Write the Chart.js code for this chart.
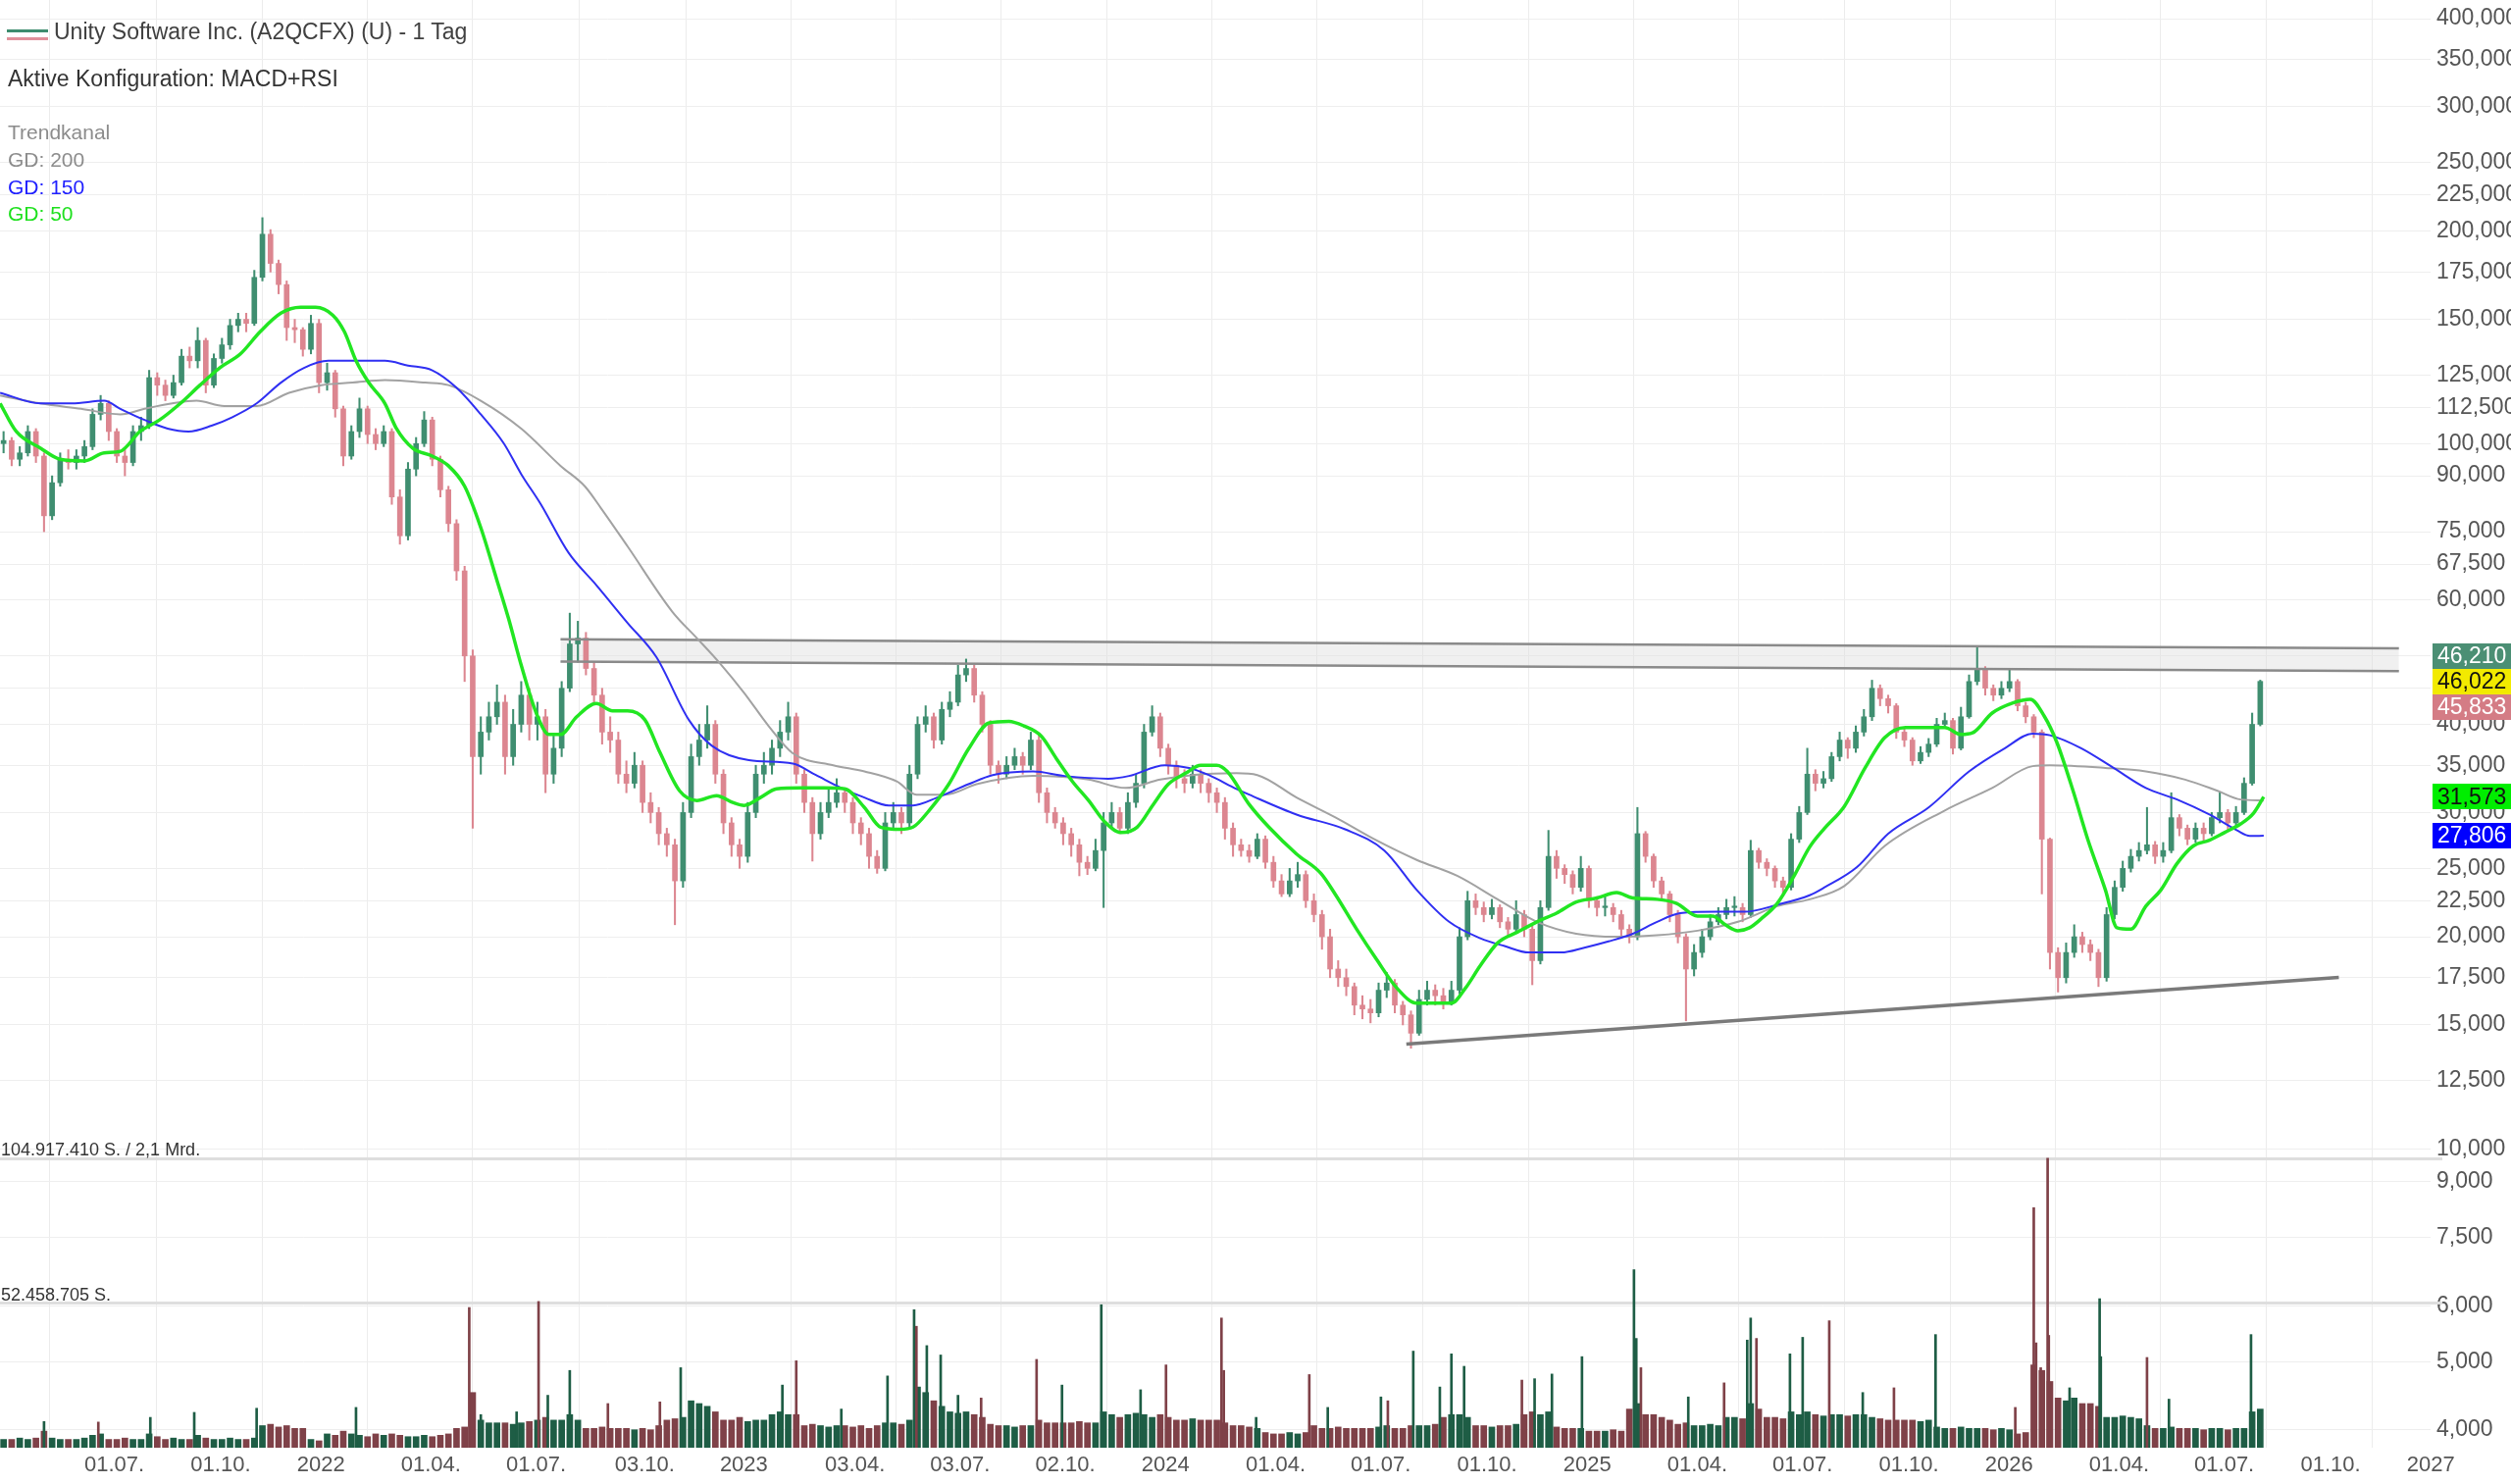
<!DOCTYPE html>
<html lang="de">
<head>
<meta charset="utf-8">
<title>Unity Software Inc. (A2QCFX) (U) - 1 Tag</title>
<script src="https://cdn.jsdelivr.net/npm/chart.js@4.4.1/dist/chart.umd.min.js"></script>
<style>
  html, body { margin: 0; padding: 0; background: #fff; }
  #wrap { position: relative; width: 2560px; height: 1513px; overflow: hidden;
          font-family: 'Liberation Sans', Arial, Helvetica, sans-serif; }
  #wrap canvas { position: absolute; left: 0; top: 0; }
  .t { position: absolute; white-space: nowrap; line-height: 1; }
  #title  { left: 55px; top: 21px;  font-size: 23px; color: #404040; }
  #config { left: 8px;  top: 69px;  font-size: 23px; color: #333; }
  #trend  { left: 8px;  top: 124px; font-size: 21px; color: #8c8c8c; }
  #gd200  { left: 8px;  top: 152px; font-size: 21px; color: #8c8c8c; }
  #gd150  { left: 8px;  top: 180px; font-size: 21px; color: #2020ff; }
  #gd50   { left: 8px;  top: 207px; font-size: 21px; color: #1ee01e; }
  #volmax { left: 1px;  top: 1163px; font-size: 18px; color: #333; }
  #volhalf{ left: 1px;  top: 1311px; font-size: 18px; color: #333; }
  .ico { position: absolute; left: 7px; width: 42px; height: 3px; }
</style>
</head>
<body>
<div id="wrap">
  <canvas id="chart" width="2560" height="1513"></canvas>
  <div class="ico" style="top:30px;background:#3d8c6e"></div>
  <div class="ico" style="top:38px;background:#e0909a"></div>
  <div class="t" id="title">Unity Software Inc. (A2QCFX) (U) - 1 Tag</div>
  <div class="t" id="config">Aktive Konfiguration: MACD+RSI</div>
  <div class="t" id="trend">Trendkanal</div>
  <div class="t" id="gd200">GD: 200</div>
  <div class="t" id="gd150">GD: 150</div>
  <div class="t" id="gd50">GD: 50</div>
  <div class="t" id="volmax">104.917.410 S. / 2,1 Mrd.</div>
  <div class="t" id="volhalf">52.458.705 S.</div>
</div>
<script>
'use strict';

/*
 * Unity Software Inc. - Tageschart mit GD 50/150/200, Trendkanal und Volumen.
 * Kerzen wochenweise, Tage gezaehlt ab 01.01.2021.
 * Kurse in Tausend Achseneinheiten (46.022 -> Achse "46,022").
 */

const FONT = "'Liberation Sans', Arial, Helvetica, sans-serif";
const PRICE_UNIT = 1000;

// x-Achse
const TICK_DAYS = [181, 273, 365, 455, 546, 640, 731, 822, 913, 1004, 1096, 1186,
  1277, 1369, 1461, 1551, 1642, 1734, 1826, 1916, 2007, 2099, 2191];
const TICK_LABELS = ['01.07.', '01.10.', '2022', '01.04.', '01.07.', '03.10.', '2023',
  '03.04.', '03.07.', '02.10.', '2024', '01.04.', '01.07.', '01.10.', '2025', '01.04.',
  '01.07.', '01.10.', '2026', '01.04.', '01.07.', '01.10.', '2027'];
const X_MIN_DAY = 91.9;
const X_MAX_DAY = 2195.4;

// y-Achse (logarithmisch)
const PRICE_TICKS = [400000, 350000, 300000, 250000, 225000, 200000, 175000, 150000,
  125000, 112500, 100000, 90000, 75000, 67500, 60000, 50000, 45000, 40000, 35000,
  30000, 25000, 22500, 20000, 17500, 15000, 12500, 10000, 9000, 7500, 6000, 5000, 4000];
const Y_MIN = 3775;
const Y_MAX = 425200;

// Wochenkerzen
const WEEK0_DAY = 95;
const FIRST_OPEN = 100;
const closes = [
  101, 95, 97, 104, 96, 79, 88, 95, 94, 96,
  99, 110, 114, 104, 96, 94, 104, 106, 124, 121,
  117, 122, 133, 131, 140, 121, 132, 138, 147, 150,
  148, 172, 198, 180, 168, 146, 145, 136, 148, 122,
  126, 112, 96, 104, 112, 103, 100, 104, 84, 74,
  92, 100, 108, 95, 86, 77, 66, 50, 36, 39,
  41, 43, 36, 40, 44, 40, 41, 34, 37, 45,
  52, 53, 48, 44, 39, 38, 34, 33, 35, 31,
  30, 28, 27, 24, 30, 36, 38, 40, 34, 29,
  27, 26, 30, 34, 35, 37, 39, 41, 34, 31,
  28, 30, 31, 32, 31, 29, 28, 26, 25, 29,
  30, 29, 34, 40, 41, 38, 42, 43, 47, 48,
  44, 40, 35, 34, 35, 36, 35, 38, 32, 30,
  29, 28, 27, 25.5, 25, 26.5, 29, 30, 28.5, 31,
  33, 39, 41, 37, 35, 33.5, 33, 34, 33, 32,
  31, 28.5, 27, 26.5, 26, 27.5, 25.5, 24, 23, 24,
  24.5, 22.5, 21.5, 20, 18, 17.5, 17, 16, 15.8, 15.6,
  16.8, 17.2, 16, 15.5, 14.6, 16.3, 16.8, 16.5, 16.2, 16.8,
  20, 22.5, 22, 21.5, 22, 21, 20.5, 21.5, 20.5, 18.5,
  22, 26, 25, 24.5, 23.5, 25, 22.5, 22, 22, 21.5,
  20.5, 20, 28, 26, 24, 23, 21.5, 20, 18, 19,
  20, 21, 21.5, 22, 22, 21.5, 26.5, 25.5, 25, 24,
  23.5, 27.5, 30, 34, 33, 33.5, 36, 38, 37, 39,
  41, 45, 43.5, 42.5, 39, 38, 35.5, 36.5, 37.5, 40,
  40.5, 37, 41, 46, 48, 45, 44, 45, 46, 42.5,
  41, 39, 27.5, 19, 17.5, 19, 20, 19.5, 19, 17.5,
  21.5, 23.5, 25, 26, 26.5, 27, 26, 26.5, 29.5, 28.5,
  27.5, 28.5, 28, 29.5, 30, 29, 30, 33, 40, 46.022
];
const highs = [
  104, 102, 99, 106, 105, 97, 90, 97, 98, 98,
  101, 112, 117, 115, 105, 98, 106, 109, 127, 126,
  123, 125, 136, 137, 146, 141, 134, 141, 150, 153,
  153, 176, 209, 201, 182, 170, 150, 146, 152, 150,
  130, 127, 113, 106, 116, 113, 105, 106, 105, 86,
  94, 102, 111, 109, 96, 87, 78, 67, 51, 41,
  43, 45.5, 44, 42, 46, 45, 43, 42, 38.5, 46,
  57.5, 56, 54, 49, 45, 41, 39, 35.5, 36.5, 35.5,
  32, 30.5, 28.5, 27.5, 31, 37.5, 40, 42.5, 40.5, 34.5,
  29.5, 27.5, 31, 35, 36.5, 38, 40.5, 43, 41.5, 34.5,
  31.5, 31, 32.5, 33.5, 32.5, 31.5, 29.5, 28.5, 26.5, 30,
  31, 30.5, 35, 41, 42.5, 41.5, 43, 44.5, 48.5, 49.5,
  48.5, 44.5, 40.5, 35.5, 36, 37, 36.5, 39, 38.5, 32.5,
  30.5, 29.5, 28.5, 27.5, 26, 27.5, 30, 31, 30.5, 32,
  34, 40, 42.5, 41.5, 37.5, 35.5, 34.5, 35, 34.5, 33.5,
  32.5, 31.5, 29, 27.5, 27, 28, 27.8, 26, 24.5, 25,
  25.5, 24.8, 23, 21.8, 20.5, 18.5, 18, 17.2, 16.5, 16.3,
  17.2, 17.8, 17.4, 16.2, 15.7, 16.8, 17.3, 17.1, 16.9, 17.3,
  20.6, 23.2, 23, 22.4, 22.6, 22.2, 21.3, 22.5, 21.8, 20.7,
  22.5, 28.3, 26.5, 25.3, 24.8, 26, 25.2, 22.8, 22.8, 22.3,
  21.8, 20.8, 30.5, 28.2, 26.2, 24.3, 23.2, 21.8, 20.2, 19.5,
  20.5, 21.5, 22, 22.6, 22.8, 22.3, 27.4, 26.7, 25.8, 25.2,
  24.3, 28, 30.6, 37, 34.5, 34.3, 36.5, 39, 38.3, 39.8,
  42, 46.2, 45.5, 44, 42.8, 39.5, 38.3, 37.2, 38.2, 40.8,
  41.5, 40.8, 42.3, 47, 51.5, 48.3, 45.5, 46, 48, 46.3,
  43, 41.3, 39.3, 27.6, 19.3, 19.6, 20.8, 20.3, 19.8, 19.2,
  22, 24, 25.6, 26.6, 27.2, 30.5, 27.3, 27.2, 32, 29.8,
  28.8, 29, 29, 30, 32, 30.3, 30.6, 33.6, 41.5, 46.21
];
const lows = [
  97, 93, 93, 96, 94, 75, 78, 87, 92, 92,
  94, 98, 108, 101, 94, 90, 93, 101, 105, 117,
  115, 116, 121, 128, 128, 118, 120, 130, 136, 144,
  144, 147, 170, 175, 163, 140, 139, 133, 134, 118,
  119, 109, 93, 95, 102, 100, 98, 99, 82, 72,
  73, 90, 99, 93, 84, 75, 64, 46, 28.5, 34,
  38, 40, 34, 35, 39, 38, 38, 32, 33, 36,
  44.5, 49, 47, 43, 37.5, 36.5, 33, 32, 32.5, 30,
  29, 27, 26, 20.8, 23.5, 29.5, 35, 37, 33, 28,
  26, 25, 25.5, 29.5, 33, 34, 36, 38, 33, 30,
  25.6, 27.5, 29.5, 30.5, 30, 28, 27, 25, 24.6, 24.8,
  28.5, 28, 28.5, 33.5, 39, 37, 37.5, 41, 42.5, 46,
  43, 39, 34, 33, 33.5, 34.5, 34, 34.5, 31, 29,
  28.5, 27, 26, 24.4, 24.5, 24.8, 22, 28.5, 28, 28,
  30.5, 32.5, 38.5, 36, 34, 32.5, 32, 32.5, 32, 31,
  30, 27.5, 26, 26, 25.5, 25.8, 25, 23.5, 22.8, 22.8,
  23.5, 22, 21, 19.2, 17.5, 17, 16.5, 15.5, 15.3, 15.1,
  15.4, 16.4, 15.6, 15, 13.9, 14.5, 16, 16, 15.8, 16,
  16.6, 19.8, 21.5, 21, 21.2, 20.6, 20, 20.3, 20, 17.1,
  18.3, 21.8, 24.2, 23.8, 23, 23.2, 22, 21.4, 21.4, 21,
  20, 19.6, 19.8, 25.5, 23.5, 22.5, 21, 19.6, 15.2, 17.6,
  18.7, 19.8, 20.8, 21.2, 21.4, 21, 21.3, 25, 24.4, 23.5,
  23, 23.3, 27.2, 29.8, 32.2, 32.5, 33.2, 35.5, 35.8, 36.5,
  38.5, 40.5, 42.5, 41.5, 38.2, 37.2, 35, 35.2, 36, 37.2,
  39.5, 36.3, 36.8, 40.8, 45.5, 44, 43.2, 43.5, 44.5, 41.8,
  40.2, 38.3, 23, 18, 16.7, 17.2, 18.7, 19, 18.5, 17,
  17.3, 21.2, 23.2, 24.7, 25.6, 26.2, 25.4, 25.5, 26.3, 27.8,
  27, 27.2, 27.3, 27.8, 29, 28.3, 28.6, 29.8, 32.8, 39.8
];

// Volumen in Mio. Stueck (typischer Tageswert je Woche)
const volumes = [
  3, 3, 3.5, 3, 3.5, 6, 3.5, 3, 3, 3,
  3.5, 4.5, 5, 3, 3, 3.5, 3, 3, 5, 4,
  3, 3.5, 3, 3, 4.5, 3.5, 3, 3, 3.5, 3,
  3, 3.5, 8, 8.5, 7.5, 8, 7, 7, 3, 2.5,
  5, 4.5, 6, 5, 4.5, 4, 5, 4.5, 5, 4.5,
  4, 4, 4.5, 4, 4.5, 5, 7, 7.5, 20, 10,
  9, 9, 9, 8.5, 9, 9.5, 10, 11, 10, 10,
  12, 10, 7, 7, 7.5, 7, 7, 7, 6.5, 7,
  6.5, 8, 10, 10.5, 11, 17, 16, 15, 13, 10,
  10, 11, 9.5, 10, 10, 12, 13, 12, 12, 8,
  8.5, 8, 7.5, 8, 8, 7.5, 8, 7, 8, 9,
  9, 8.5, 10, 22, 20, 17, 15, 13, 12.5, 13,
  12, 11, 8.5, 8, 8, 7.5, 8, 8, 10, 9,
  9, 9, 9, 9.5, 9, 9, 13, 12, 11, 12,
  12.5, 12, 11, 12, 11, 10, 10, 10.5, 10, 10,
  10, 9, 8, 8, 7.5, 7, 5.5, 5, 5, 5.5,
  5, 5.5, 8, 7, 7, 7.5, 7, 7, 7, 7,
  7.5, 8, 7, 7, 8, 8, 8, 8.5, 11, 12,
  12, 11, 8, 8, 7.5, 8, 8, 8.5, 12, 13,
  12, 13, 7.5, 7, 7, 7, 6, 6, 6, 6.5,
  6, 14, 16, 12, 12, 11, 10, 8.5, 9, 8,
  8, 8.5, 8, 11, 11, 10.5, 16, 14, 11, 11,
  10.5, 13, 12, 13, 12, 11.5, 12, 12, 11.5, 12,
  12, 11, 10.5, 10, 10, 10, 10, 9.5, 10, 7.5,
  7, 7, 7.5, 7, 7, 7, 6.5, 7, 6.5, 5,
  5.5, 30, 28, 24, 18, 17, 18, 16, 16, 15,
  11, 11, 11.5, 11, 10.5, 8, 7, 7, 7.5, 7,
  7, 7, 6.5, 7, 7, 6.5, 7, 7, 13, 14
];

// einzelne Volumenspitzen (Tag, Mio. Stueck, 1 = steigender Tag)
const spikeDays = [130, 177, 222, 260, 314, 400, 498, 508, 539, 558, 566, 585, 618, 663,
  681, 769, 781, 820, 860, 883, 885, 894, 906, 921, 941, 989, 1011, 1045, 1079, 1101,
  1149, 1151, 1179, 1225, 1241, 1287, 1293, 1315, 1338, 1348, 1359, 1409, 1420, 1435,
  1461, 1506, 1508, 1512, 1553, 1584, 1604, 1607, 1612, 1641, 1652, 1675, 1704, 1731,
  1767, 1836, 1852, 1854, 1858, 1864, 1865, 1883, 1909, 1910, 1950, 1969, 2040];
const spikeVols = [9.5, 9.3, 11, 12.8, 14.3, 14.6, 50.8, 12, 13, 53, 19, 28, 16, 16.6,
  29, 22.7, 31.5, 14, 26, 50, 44, 37, 33.6, 19, 18, 32, 22.7, 51.8, 21, 30,
  47, 28, 11, 26.5, 14.6, 18.4, 17, 35, 22, 34, 29.5, 24.5, 25, 26.7,
  33, 64.5, 39.6, 29, 18.4, 23.5, 39, 47, 39.6, 34, 40, 46, 20, 21.7,
  41, 14.6, 87, 38, 29, 104.9, 40.7, 21.7, 54, 33, 32.7, 17.6, 41];
const spikeUp = [1, 0, 1, 1, 1, 1, 0, 1, 1, 0, 1, 1, 0, 0,
  1, 1, 0, 1, 1, 1, 0, 1, 1, 1, 0, 0, 1, 1, 1, 0,
  0, 0, 1, 0, 1, 1, 0, 1, 1, 1, 1, 0, 1, 1,
  1, 1, 1, 0, 1, 0, 1, 1, 0, 1, 1, 0, 1, 0,
  1, 0, 0, 0, 0, 0, 0, 1, 1, 1, 0, 1, 1];
const VOL_MAX = 104.91741;
const VOL_PANEL_SHARE = 0.2;

// gleitende Durchschnitte
const gd50Days = [92, 106, 127, 144, 165, 182, 196, 213, 230, 248, 265, 282, 300, 317, 335,
  352, 365, 380, 390, 400, 411, 425, 435, 449, 466, 480, 494, 508, 522, 532, 543, 556, 567,
  577, 591, 608, 622, 635, 650, 663, 680, 695, 712, 726, 736, 750, 764, 785, 805, 823, 840,
  854, 871, 882, 896, 913, 930, 948, 965, 978, 993, 1006, 1020, 1034, 1048, 1062, 1076,
  1090, 1103, 1118, 1131, 1145, 1154, 1173, 1190, 1214, 1235, 1248, 1266, 1283, 1301, 1318,
  1335, 1348, 1360, 1373, 1388, 1405, 1422, 1439, 1456, 1474, 1491, 1505, 1526, 1543, 1561,
  1574, 1585, 1596, 1606, 1616, 1630, 1644, 1658, 1671, 1688, 1706, 1723, 1741, 1758, 1775,
  1789, 1799, 1816, 1834, 1849, 1861, 1872, 1886, 1899, 1914, 1924, 1936, 1949, 1962, 1976,
  1990, 2004, 2017, 2031, 2042, 2051];
const gd50Vals = [114, 104, 98.5, 95, 94.5, 97, 97.5, 104, 108, 114, 121, 128, 134, 144, 153,
  156, 156, 152, 144, 131, 122, 114, 105, 98.5, 96, 93, 87, 76, 64, 56.5, 48.5, 41.5, 38.7,
  38.7, 41, 42.8, 41.8, 41.8, 40.6, 36.5, 32.2, 31.2, 31.7, 31, 30.7, 31.5, 32.4, 32.5, 32.5,
  32.4, 30.5, 28.6, 28.4, 28.6, 30.2, 32.9, 36.9, 40.2, 40.4, 39.8, 38.5, 35.8, 33.2, 31.2,
  29.1, 28.1, 28.6, 30.8, 32.9, 34.1, 35, 35, 34.3, 30.8, 28.6, 26.2, 24.6, 22.9, 20.5, 18.6,
  16.9, 16.1, 16.1, 16.1, 16.9, 18.2, 19.6, 20.3, 21, 21.6, 22.4, 22.7, 23.1, 22.7, 22.6,
  22.3, 21.4, 21.4, 20.8, 20.4, 20.6, 21.2, 22.3, 24.3, 26.8, 28.5, 30.6, 34.7, 38.3, 39.6,
  39.6, 39.6, 38.7, 38.9, 41.5, 42.9, 43.4, 41.1, 37.7, 32.2, 27.4, 23.3, 20.6, 20.5, 22.1,
  23.3, 25.4, 26.9, 27.4, 28.1, 28.9, 29.9, 31.573];
const gd150Days = [92, 127, 154, 182, 196, 217, 237, 255, 275, 293, 314, 335, 355, 376, 397,
  425, 445, 466, 487, 508, 528, 543, 560, 584, 608, 635, 660, 688, 708, 740, 778, 798, 820,
  840, 861, 882, 903, 930, 951, 986, 1013, 1051, 1069, 1100, 1121, 1138, 1162, 1173, 1214,
  1256, 1290, 1318, 1346, 1373, 1394, 1415, 1443, 1463, 1484, 1505, 1526, 1546, 1578, 1602,
  1630, 1658, 1671, 1699, 1726, 1761, 1796, 1827, 1851, 1866, 1893, 1921, 1949, 1976, 2004,
  2028, 2039, 2051];
const gd150Vals = [118, 114, 114, 115, 112, 108, 105, 104, 106, 109, 114, 122, 128, 131, 131,
  131, 129, 127, 120, 110, 100, 90.5, 82, 70, 63, 55.7, 49.8, 40.6, 37.3, 35.6, 35.2, 33.9,
  32.5, 31.5, 30.7, 30.7, 31.5, 32.9, 33.9, 34.3, 33.8, 33.5, 33.8, 35, 34.7, 33.9, 32.4,
  31.8, 29.8, 28.4, 26.5, 23.3, 21, 19.9, 19.4, 19, 19, 19.3, 19.7, 20.2, 21, 21.6, 21.7,
  21.7, 22.2, 22.9, 23.5, 25.1, 28, 30.5, 34.3, 37, 38.8, 38.6, 37, 34.7, 32.5, 31.3, 29.8,
  28.3, 27.8, 27.806];
const gd200Days = [92, 127, 162, 196, 217, 241, 262, 286, 314, 342, 370, 397, 425, 460, 480,
  508, 543, 577, 598, 612, 635, 674, 695, 715, 736, 757, 778, 813, 840, 868, 885, 910, 937,
  965, 986, 1034, 1066, 1096, 1124, 1162, 1180, 1214, 1248, 1283, 1318, 1353, 1388, 1422,
  1456, 1491, 1526, 1561, 1596, 1630, 1658, 1688, 1723, 1775, 1816, 1851, 1866, 1914, 1949,
  1983, 2011, 2031, 2051];
const gd200Vals = [117, 114, 112, 110, 112, 114, 115, 113, 113, 118, 121, 122, 123, 122, 121,
  115, 105, 93, 87, 81, 71.5, 57.7, 53, 48.8, 44.3, 39.8, 36.4, 35, 34.3, 33.2, 31.8, 31.8,
  32.9, 33.6, 33.8, 33.4, 32.5, 33.4, 33.9, 34.1, 33.9, 31.5, 29.5, 27.4, 25.7, 24.4, 22.6,
  21, 20.2, 20, 20.1, 20.4, 21, 22.1, 22.6, 23.6, 26.9, 30.2, 32.5, 34.9, 35, 34.7, 34.3,
  33.4, 32.2, 31.3, 31.2];

// Trendkanal oben (Band) und Trendlinie unten
const channelDays = [577, 2168];
const channelTop = [52.8, 51.26];
const channelBottom = [49.1, 47.57];
const trendDays = [1309, 2116];
const trendVals = [14.09, 17.51];

// Kursmarken rechts: Hoch / Letzter / Tief
const quoteValues = [46210, 46022, 45833];

// ------------------------------------------------------------------
const GREEN = '#3f8e70';
const RED = '#dc8690';
const VOL_GREEN = '#1e5d45';
const VOL_RED = '#7f4148';

const candleDays = closes.map((_, i) => WEEK0_DAY + 7 * i);
const opens = closes.map((_, i) => (i === 0 ? FIRST_OPEN : closes[i - 1]));
const isUp = closes.map((c, i) => c >= opens[i]);

const toPoints = (days, vals, unit) => days.map((d, i) => ({ x: d, y: vals[i] * unit }));

const lineSet = (label, days, vals, color, width, order, extra = {}) => Object.assign({
  type: 'line',
  label,
  data: toPoints(days, vals, PRICE_UNIT),
  borderColor: color,
  borderWidth: width,
  pointRadius: 0,
  cubicInterpolationMode: 'monotone',
  fill: false,
  yAxisID: 'y',
  order,
}, extra);

const overlay = {
  id: 'overlay',
  beforeDatasetsDraw(chart) {
    const { ctx, chartArea, scales } = chart;
    ctx.save();
    ctx.strokeStyle = '#dedede';
    ctx.lineWidth = 3;
    [VOL_MAX, VOL_MAX / 2].forEach(v => {
      const y = Math.round(scales.yv.getPixelForValue(v)) + 0.5;
      ctx.beginPath();
      ctx.moveTo(chartArea.left, y);
      ctx.lineTo(chartArea.right + 12, y);
      ctx.stroke();
    });
    ctx.restore();
  },
  afterDraw(chart) {
    const { ctx, chartArea, scales } = chart;
    const left = chartArea.right + 2;
    const w = chart.width - left;
    const h = 26;
    const box = (y, value, bg, fg) => {
      ctx.fillStyle = bg;
      ctx.fillRect(left, Math.round(y - h / 2), w, h);
      ctx.fillStyle = fg;
      ctx.fillText(Math.round(value).toLocaleString('en-US'), left + 5, y + 1);
    };
    ctx.save();
    ctx.font = '23px ' + FONT;
    ctx.textBaseline = 'middle';
    ctx.textAlign = 'left';
    const yLast = scales.y.getPixelForValue(quoteValues[1]);
    box(yLast - h, quoteValues[0], '#4b8f74', '#fff');
    box(yLast, quoteValues[1], '#f2ea00', '#111');
    box(yLast + h, quoteValues[2], '#d47c85', '#fff');
    const gd50Last = gd50Vals[gd50Vals.length - 1] * PRICE_UNIT;
    const gd150Last = gd150Vals[gd150Vals.length - 1] * PRICE_UNIT;
    box(scales.y.getPixelForValue(gd50Last), gd50Last, '#00ee00', '#111');
    box(scales.y.getPixelForValue(gd150Last), gd150Last, '#0000ff', '#fff');
    ctx.restore();
  }
};

Chart.defaults.font.family = FONT;

new Chart(document.getElementById('chart'), {
  type: 'bar',
  data: {
    datasets: [
      lineSet('GD 50', gd50Days, gd50Vals, '#22e622', 3.5, 0),
      lineSet('GD 150', gd150Days, gd150Vals, '#2f2ff2', 2, 1),
      lineSet('GD 200', gd200Days, gd200Vals, '#a2a2a2', 2, 2),
      lineSet('Trendlinie', trendDays, trendVals, '#7a7a7a', 3.5, 3, { cubicInterpolationMode: 'default' }),
      lineSet('Kanal oben', channelDays, channelTop, '#8a8a8a', 2.5, 4,
        { cubicInterpolationMode: 'default', fill: '+1', backgroundColor: 'rgba(222,222,222,0.45)' }),
      lineSet('Kanal unten', channelDays, channelBottom, '#8a8a8a', 2.5, 5, { cubicInterpolationMode: 'default' }),
      {
        label: 'Kerzen',
        data: candleDays.map((d, i) => ({ x: d, y: [opens[i] * PRICE_UNIT, closes[i] * PRICE_UNIT] })),
        backgroundColor: isUp.map(u => (u ? GREEN : RED)),
        barThickness: 5,
        minBarLength: 1.5,
        grouped: false,
        yAxisID: 'y',
        order: 6,
      },
      {
        label: 'Dochte',
        data: candleDays.map((d, i) => ({ x: d, y: [lows[i] * PRICE_UNIT, highs[i] * PRICE_UNIT] })),
        backgroundColor: isUp.map(u => (u ? GREEN : RED)),
        barThickness: 1.4,
        grouped: false,
        yAxisID: 'y',
        order: 7,
      },
      {
        label: 'Volumenspitzen',
        data: spikeDays.map((d, i) => ({ x: d, y: spikeVols[i] })),
        backgroundColor: spikeUp.map(u => (u ? VOL_GREEN : VOL_RED)),
        barThickness: 2,
        grouped: false,
        yAxisID: 'yv',
        order: 8,
      },
      {
        label: 'Volumen',
        data: candleDays.map((d, i) => ({ x: d, y: volumes[i] })),
        backgroundColor: isUp.map(u => (u ? VOL_GREEN : VOL_RED)),
        barThickness: 6,
        grouped: false,
        yAxisID: 'yv',
        order: 9,
      },
    ]
  },
  options: {
    responsive: false,
    animation: false,
    devicePixelRatio: 1,
    events: [],
    layout: { padding: 0 },
    plugins: {
      legend: { display: false },
      tooltip: { enabled: false },
      filler: { drawTime: 'beforeDatasetsDraw' },
    },
    scales: {
      x: {
        type: 'linear',
        min: X_MIN_DAY,
        max: X_MAX_DAY,
        bounds: 'data',
        offset: false,
        grid: { color: '#ececec', drawTicks: false },
        border: { display: false },
        ticks: {
          autoSkip: false,
          maxRotation: 0,
          align: 'start',
          labelOffset: -19,
          padding: 5,
          color: '#555',
          font: { size: 22 },
          callback: (v, i) => TICK_LABELS[i],
        },
        afterBuildTicks: s => { s.ticks = TICK_DAYS.map(v => ({ value: v })); },
        afterFit: s => { s.height = 37; s.paddingLeft = 0; s.paddingRight = 0; },
      },
      y: {
        type: 'logarithmic',
        position: 'right',
        min: Y_MIN,
        max: Y_MAX,
        bounds: 'data',
        grid: { color: '#eeeeee', drawTicks: false },
        border: { display: false },
        ticks: {
          autoSkip: false,
          padding: 6,
          color: '#555',
          font: { size: 23 },
          callback: v => Number(v).toLocaleString('en-US'),
        },
        afterBuildTicks: s => { s.ticks = PRICE_TICKS.map(v => ({ value: v })); },
        afterFit: s => { s.width = 82; s.paddingTop = 0; s.paddingBottom = 0; },
      },
      yv: {
        type: 'linear',
        display: false,
        min: 0,
        max: VOL_MAX / VOL_PANEL_SHARE,
      },
    }
  },
  plugins: [overlay]
});
</script>
</body>
</html>
